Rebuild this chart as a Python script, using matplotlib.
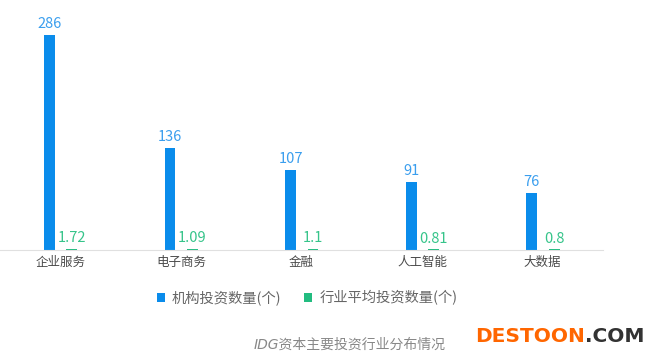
import matplotlib
matplotlib.use('Agg')
import matplotlib.pyplot as plt
import numpy as np

plt.rcParams['font.family'] = ['Noto Sans CJK SC', 'DejaVu Sans']

# 数据
categories = ['企业服务', '电子商务', '金融', '人工智能', '大数据']
org_counts = [286, 136, 107, 91, 76]
avg_counts = [1.72, 1.09, 1.1, 0.81, 0.8]
org_labels = ['286', '136', '107', '91', '76']
avg_labels = ['1.72', '1.09', '1.1', '0.81', '0.8']

blue = '#0A8CEB'
green = '#22BC80'
blue_txt = '#3A9EEE'
green_txt = '#36C48A'

fig = plt.figure(figsize=(6.46, 3.59), dpi=100)
ax = fig.add_axes([0.0, 1 - 250 / 359, 603 / 646, 250 / 359])

x = np.arange(len(categories))
w = 0.09
ax.bar(x - 0.09, org_counts, width=w, color=blue, label='机构投资数量(个)')
ax.bar(x + 0.095, avg_counts, width=w, color=green, label='行业平均投资数量(个)')

for i in range(len(categories)):
    ax.text(x[i] - 0.09, org_counts[i] + 5, org_labels[i], ha='center', va='bottom',
            color=blue_txt, fontsize=10.5)
    ax.text(x[i] + 0.095, avg_counts[i] + 5, avg_labels[i], ha='center', va='bottom',
            color=green_txt, fontsize=10.5)

ax.set_xlim(-0.5, len(categories) - 0.5)
ax.set_ylim(0, 286 * 250 / 215)
ax.set_xticks(x)
ax.set_xticklabels(categories, fontsize=9, color='#4A4A4A')
ax.tick_params(axis='x', length=0, pad=4)
ax.set_yticks([])
for s in ['top', 'right', 'left']:
    ax.spines[s].set_visible(False)
ax.spines['bottom'].set_color('#E0E0E0')

leg = fig.legend(loc='center', bbox_to_anchor=(307 / 646, 1 - 298 / 359), ncol=2,
                 frameon=False, fontsize=10.3, handlelength=0.55, handleheight=0.55,
                 handletextpad=0.5, columnspacing=1.6)
for t in leg.get_texts():
    t.set_color('#666666')

fig.text(350 / 646, 1 - 345 / 359, 'IDG资本主要投资行业分布情况', ha='center', va='center',
         fontsize=10, color='#888888', style='italic',
         family=['DejaVu Sans', 'Noto Sans CJK SC'])

t1 = fig.text(475 / 646, 1 - 336 / 359, 'DESTOON', ha='left', va='center', fontsize=14.5,
              fontweight='bold', color='#FF6600', family=['DejaVu Sans'])
fig.canvas.draw()
bb = t1.get_window_extent()
fig.text(bb.x1 / fig.bbox.width, 1 - 336 / 359, '.COM', ha='left', va='center', fontsize=14.5,
         fontweight='bold', color='#333333', family=['DejaVu Sans'])

fig.savefig('out.png', dpi=100)
